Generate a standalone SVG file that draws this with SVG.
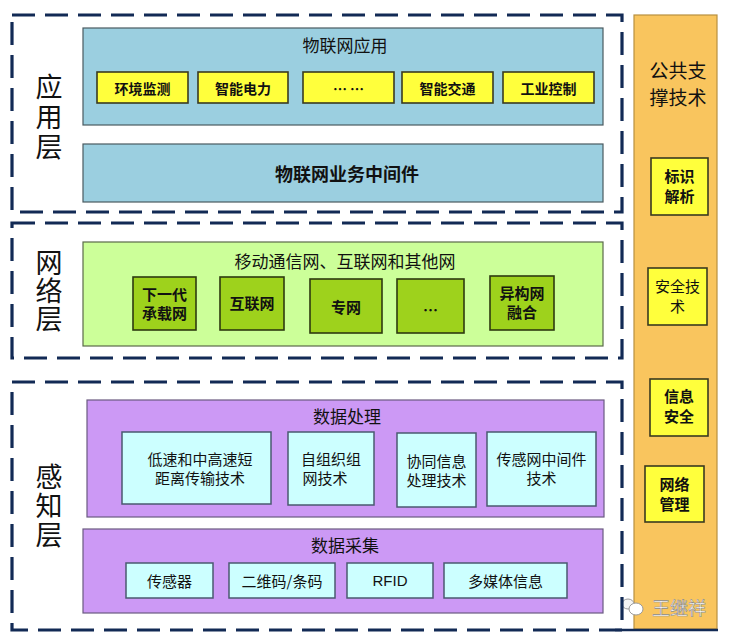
<svg xmlns="http://www.w3.org/2000/svg" width="729" height="640" viewBox="0 0 729 640">
<style>
text{font-family:"Noto Sans CJK SC","Liberation Sans",sans-serif;text-anchor:middle;fill:#111}
.c{dominant-baseline:central}
.v{writing-mode:vertical-rl;font-size:27px}
.dash{fill:none;stroke:#122a55;stroke-width:3.2;stroke-dasharray:23 10}
.blue{fill:#9bcfe0;stroke:#4a5a60;stroke-width:1.2}
.yel{fill:#ffff3c;stroke:#3a3a20;stroke-width:1.6}
.gout{fill:#ccff99;stroke:#5a6a4a;stroke-width:1.2}
.gin{fill:#9ed21c;stroke:#2d3a10;stroke-width:1.6}
.pur{fill:#cc99f5;stroke:#6a5a80;stroke-width:1.2}
.cyan{fill:#ccffff;stroke:#4a5a70;stroke-width:1.5}
.orange{fill:#f9c55e;stroke:#b89040;stroke-width:1.2}
.b{font-weight:bold}
.t15{font-size:15px}
.t14{font-size:14px}
.t17{font-size:17px}
</style>
<rect width="729" height="640" fill="#ffffff"/>

<g id="support">
<rect class="orange" x="634" y="15" width="83" height="614"/>
<line x1="615" y1="630" x2="718" y2="630" stroke="#122a55" stroke-width="2.5"/>
<text x="678" y="78" style="font-size:19px">公共支<tspan x="678" dy="27">撑技术</tspan></text>
</g>
<g id="s-biaoshi"><rect class="yel" x="651" y="158" width="57" height="57"/><text class="b t15" x="679.5" y="182">标识<tspan x="679.5" dy="20">解析</tspan></text></g>
<g id="s-anquan"><rect class="yel" x="648" y="268" width="59" height="57"/><text class="t15" x="677.5" y="292">安全技<tspan x="677.5" dy="20">术</tspan></text></g>
<g id="s-xinxi"><rect class="yel" x="650" y="379" width="58" height="57"/><text class="b t15" x="679" y="402">信息<tspan x="679" dy="20">安全</tspan></text></g>
<g id="s-wangluo"><rect class="yel" x="645" y="466" width="59" height="56"/><text class="b t15" x="674.5" y="490">网络<tspan x="674.5" dy="20">管理</tspan></text></g>
<g id="watermark">
<ellipse cx="628" cy="604" rx="6" ry="5" fill="#f4f4f4" stroke="#9a9a9a" stroke-width="1"/>
<ellipse cx="636" cy="609" rx="7" ry="6" fill="#ffffff" stroke="#9a9a9a" stroke-width="1"/>
<text class="c" x="679" y="607" style="font-size:18px;fill:#ffffff;stroke:#8a8a8a;stroke-width:0.6">王继祥</text>
</g>

<g id="app-layer">
<rect class="dash" x="12" y="15" width="610" height="197"/>
<text class="v" x="49" y="118.5" style="letter-spacing:3px">应用层</text>
</g>
<g id="iot-app">
<rect class="blue" x="83" y="28" width="520" height="97"/>
<text class="t17 c" x="345" y="44">物联网应用</text>
</g>
<g id="a1"><rect class="yel" x="97" y="72" width="91" height="31"/><text class="b t14 c" x="142.5" y="88">环境监测</text></g>
<g id="a2"><rect class="yel" x="198" y="72" width="90" height="31"/><text class="b t14 c" x="243" y="88">智能电力</text></g>
<g id="a3"><rect class="yel" x="303" y="72" width="91" height="31"/><text class="b t14 c" x="348.5" y="88">… …</text></g>
<g id="a4"><rect class="yel" x="402" y="72" width="91" height="31"/><text class="b t14 c" x="447.5" y="88">智能交通</text></g>
<g id="a5"><rect class="yel" x="503" y="72" width="91" height="31"/><text class="b t14 c" x="548.5" y="88">工业控制</text></g>
<g id="middleware">
<rect class="blue" x="83" y="144" width="520" height="58"/>
<text class="b c" x="347" y="173" style="font-size:18px">物联网业务中间件</text>
</g>

<g id="net-layer">
<rect class="dash" x="12" y="223" width="610" height="135"/>
<text class="v" x="49" y="291" style="letter-spacing:1px">网络层</text>
</g>
<g id="networks">
<rect class="gout" x="83" y="242" width="520" height="104"/>
<text class="c" x="345" y="260" style="font-size:17px">移动通信网、互联网和其他网</text>
</g>
<g id="n1"><rect class="gin" x="133" y="277" width="63" height="53"/><text class="b t15" x="164.5" y="300">下一代<tspan x="164.5" dy="19">承载网</tspan></text></g>
<g id="n2"><rect class="gin" x="220" y="277" width="64" height="53"/><text class="b t15 c" x="252" y="302">互联网</text></g>
<g id="n3"><rect class="gin" x="310" y="279" width="72" height="54"/><text class="b t15 c" x="346" y="306">专网</text></g>
<g id="n4"><rect class="gin" x="397" y="279" width="67" height="54"/><text class="b t15 c" x="430.5" y="309">…</text></g>
<g id="n5"><rect class="gin" x="490" y="276" width="64" height="54"/><text class="b t15" x="522" y="299">异构网<tspan x="522" dy="19">融合</tspan></text></g>

<g id="sense-layer">
<rect class="dash" x="12" y="382" width="610" height="248"/>
<text class="v" x="49" y="507" style="letter-spacing:2px">感知层</text>
</g>
<g id="processing">
<rect class="pur" x="87" y="400" width="517" height="117"/>
<text class="t17 c" x="347" y="415">数据处理</text>
</g>
<g id="p1"><rect class="cyan" x="122" y="432" width="149" height="72"/><text class="t15" x="200" y="465">低速和中高速短<tspan x="200" dy="19">距离传输技术</tspan></text></g>
<g id="p2"><rect class="cyan" x="288" y="432" width="86" height="73"/><text class="t15" x="331" y="465">自组织组<tspan x="325" dy="19">网技术</tspan></text></g>
<g id="p3"><rect class="cyan" x="397" y="433" width="79" height="74"/><text class="t15" x="436.5" y="467">协同信息<tspan x="436.5" dy="19">处理技术</tspan></text></g>
<g id="p4"><rect class="cyan" x="487" y="432" width="109" height="74"/><text class="t15" x="541.5" y="465">传感网中间件<tspan x="541.5" dy="19">技术</tspan></text></g>
<g id="collection">
<rect class="pur" x="83" y="529" width="520" height="84"/>
<text class="t17 c" x="345" y="544">数据采集</text>
</g>
<g id="c1"><rect class="cyan" x="126" y="563" width="87" height="35"/><text class="t15 c" x="169.5" y="580">传感器</text></g>
<g id="c2"><rect class="cyan" x="229" y="563" width="106" height="35"/><text class="t15 c" x="282" y="580">二维码/条码</text></g>
<g id="c3"><rect class="cyan" x="347" y="563" width="86" height="35"/><text class="t15 c" x="390" y="580" style="font-family:'Liberation Sans',sans-serif">RFID</text></g>
<g id="c4"><rect class="cyan" x="444" y="563" width="123" height="35"/><text class="t15 c" x="505.5" y="580">多媒体信息</text></g>

<g id="connectors"></g>
</svg>
